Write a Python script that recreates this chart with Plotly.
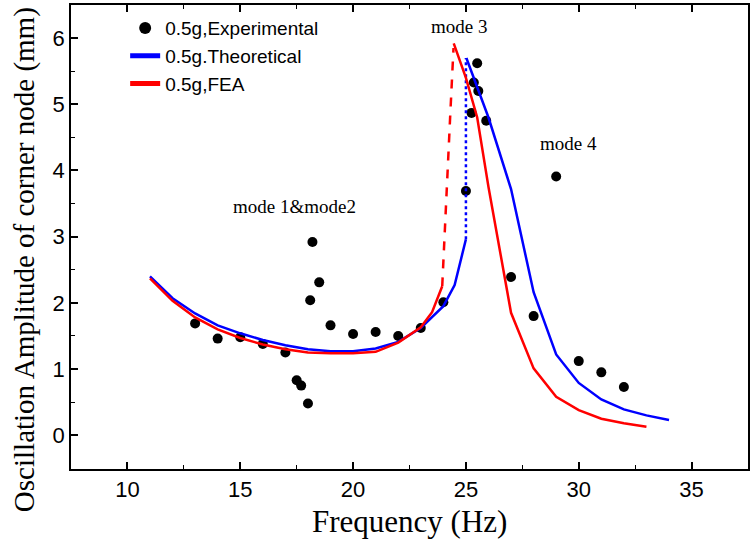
import plotly.graph_objects as go

# Experimental data
exp_x = [13, 14, 15, 16, 17, 17.5, 17.7, 18, 18.1, 18.2, 18.5, 19, 20, 21, 22, 23, 24,
         25, 25.25, 25.35, 25.5, 25.55, 25.9, 27, 28, 29, 30, 31, 32]
exp_y = [1.69, 1.46, 1.48, 1.38, 1.25, 0.83, 0.75, 0.48, 2.04, 2.92, 2.31, 1.66, 1.53, 1.56,
         1.50, 1.62, 2.01, 3.69, 4.87, 5.33, 5.62, 5.20, 4.75, 2.39, 1.80, 3.91, 1.12, 0.95, 0.73]

# Theoretical (blue)
th_lo_x = [11, 12, 13, 14, 15, 16, 17, 18, 19, 20, 21, 22, 23, 24, 24.5, 25]
th_lo_y = [2.40, 2.07, 1.84, 1.66, 1.54, 1.44, 1.36, 1.30, 1.27, 1.27, 1.31, 1.41, 1.62, 1.95, 2.27, 2.96]
th_jump_x = [25, 25]
th_jump_y = [2.96, 5.70]
th_hi_x = [25.02, 25.5, 26, 27, 28, 29, 30, 31, 32, 33, 34]
th_hi_y = [5.70, 5.25, 4.80, 3.72, 2.16, 1.22, 0.79, 0.54, 0.39, 0.30, 0.23]

# FEA (red)
fea_lo_x = [11, 12, 13, 14, 15, 16, 17, 18, 19, 20, 21, 22, 23, 23.5, 23.95]
fea_lo_y = [2.37, 2.03, 1.78, 1.60, 1.47, 1.37, 1.30, 1.25, 1.24, 1.24, 1.26, 1.40, 1.63, 1.86, 2.25]
fea_jump_x = [23.95, 24.15, 24.3, 24.45]
fea_jump_y = [2.25, 3.6, 4.8, 5.85]
fea_hi_x = [24.46, 25, 25.5, 26, 27, 28, 29, 30, 31, 32, 33]
fea_hi_y = [5.92, 5.40, 4.80, 3.75, 1.85, 1.01, 0.58, 0.38, 0.25, 0.18, 0.13]

BLUE = "#0000ff"
RED = "#ff0000"

fig = go.Figure()
fig.add_trace(go.Scatter(x=exp_x, y=exp_y, mode="markers", name="0.5g,Experimental",
                         marker=dict(color="black", size=10)))
fig.add_trace(go.Scatter(x=th_lo_x, y=th_lo_y, mode="lines", name="0.5g.Theoretical",
                         line=dict(color=BLUE, width=2.5), legendgroup="th"))
fig.add_trace(go.Scatter(x=th_jump_x, y=th_jump_y, mode="lines", showlegend=False,
                         line=dict(color=BLUE, width=2.5, dash="dot"), legendgroup="th"))
fig.add_trace(go.Scatter(x=th_hi_x, y=th_hi_y, mode="lines", showlegend=False,
                         line=dict(color=BLUE, width=2.5), legendgroup="th"))
fig.add_trace(go.Scatter(x=fea_lo_x, y=fea_lo_y, mode="lines", name="0.5g,FEA",
                         line=dict(color=RED, width=2.5), legendgroup="fea"))
fig.add_trace(go.Scatter(x=fea_jump_x, y=fea_jump_y, mode="lines", showlegend=False,
                         line=dict(color=RED, width=2.5, dash="dash"), legendgroup="fea"))
fig.add_trace(go.Scatter(x=fea_hi_x, y=fea_hi_y, mode="lines", showlegend=False,
                         line=dict(color=RED, width=2.5), legendgroup="fea"))

serif = "Liberation Serif, Times New Roman, serif"
sans = "Liberation Sans, Arial, Helvetica, sans-serif"

annotations = [
    dict(x=17.41, y=3.45, text="mode 1&mode2", showarrow=False, font=dict(family=serif, size=19, color="black")),
    dict(x=24.68, y=6.17, text="mode 3", showarrow=False, font=dict(family=serif, size=19, color="black")),
    dict(x=29.53, y=4.41, text="mode 4", showarrow=False, font=dict(family=serif, size=19, color="black")),
    dict(xref="paper", yref="paper", x=(410 - 71) / 679, y=(469 - 521) / 464, text="Frequency (Hz)",
         showarrow=False, xanchor="center", yanchor="middle", font=dict(family=serif, size=31, color="black")),
    dict(xref="paper", yref="paper", x=(24 - 71) / 679, y=(469 - 260) / 464,
         text="Oscillation Amplitude of corner node (mm)", textangle=-90,
         showarrow=False, xanchor="center", yanchor="middle", font=dict(family=serif, size=29, color="black")),
]

fig.update_layout(
    width=751, height=544,
    margin=dict(l=71, r=1, t=5, b=75),
    paper_bgcolor="white", plot_bgcolor="white",
    showlegend=True,
    legend=dict(x=0.08, y=0.991, xanchor="left", yanchor="top", bgcolor="rgba(0,0,0,0)",
                font=dict(family=sans, size=19, color="black"), tracegroupgap=0, itemsizing="constant"),
    annotations=annotations,
)
fig.update_xaxes(range=[7.5, 37.5], tickvals=[10, 15, 20, 25, 30, 35], ticks="inside", ticklen=7,
                 tickwidth=1.5, tickcolor="black", showline=True, linecolor="black", linewidth=1.5,
                 mirror="ticks", showgrid=False, zeroline=False,
                 minor=dict(ticks="inside", ticklen=4, tickwidth=1.2, tickcolor="black", dtick=2.5, tick0=0, showgrid=False),
                 tickfont=dict(family=sans, size=22, color="black"))
fig.update_yaxes(range=[-0.51, 6.5], tickvals=[0, 1, 2, 3, 4, 5, 6], ticks="inside", ticklen=7,
                 tickwidth=1.5, tickcolor="black", showline=True, linecolor="black", linewidth=1.5,
                 mirror=True, showgrid=False, zeroline=False,
                 minor=dict(ticks="inside", ticklen=4, tickwidth=1.2, tickcolor="black", dtick=0.5, tick0=0, showgrid=False),
                 tickfont=dict(family=sans, size=22, color="black"))

fig.write_html("out.html", config={"displayModeBar": False},
               post_script="document.body.style.margin='0';document.body.style.padding='0';")
